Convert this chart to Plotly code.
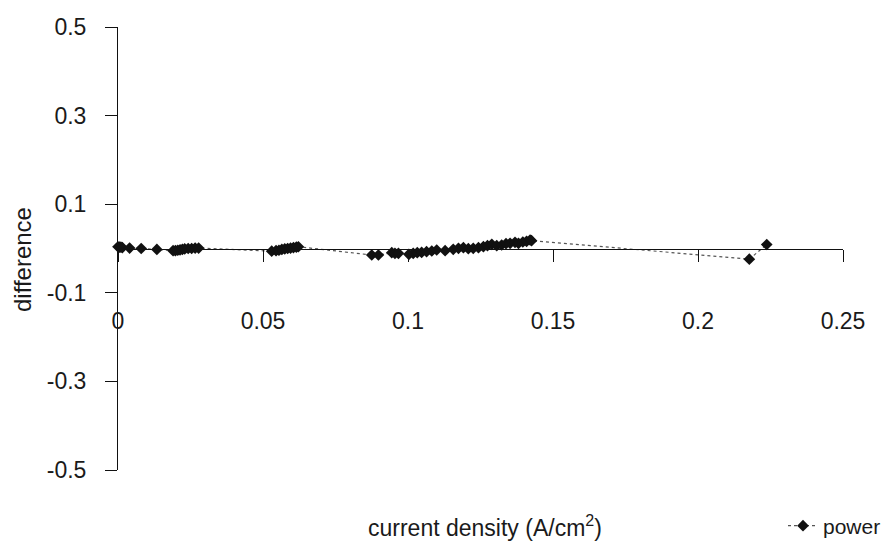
import plotly.graph_objects as go

# ---- data ----
x_c1 = [0.0, 0.0005, 0.001, 0.0015, 0.004, 0.008, 0.0134, 0.019, 0.0198, 0.0206,
        0.0214, 0.0222, 0.023, 0.0242, 0.0254, 0.0266, 0.0278]
y_c1 = [0.004, 0.003, 0.003, 0.002, 0.001, 0.000, -0.002, -0.005, -0.005, -0.004,
        -0.003, -0.002, -0.001, 0.000, 0.000, 0.001, 0.001]

x_c2 = [0.0530, 0.0545, 0.0555, 0.0565, 0.0575, 0.0585, 0.0595, 0.0605, 0.0615, 0.0622]
y_c2 = [-0.006, -0.005, -0.004, -0.002, -0.001, 0.000, 0.001, 0.002, 0.003, 0.004]

x_c3 = [0.0875, 0.0898, 0.0944, 0.0955, 0.0967, 0.1003, 0.1018, 0.1032, 0.1047, 0.1064,
        0.1082, 0.1099, 0.1128, 0.1156, 0.1174, 0.1191, 0.1208, 0.1225, 0.1243, 0.1260,
        0.1274, 0.1289, 0.1306, 0.1323, 0.1338, 0.1352, 0.1369, 0.1381, 0.1396, 0.1409,
        0.1421, 0.1426]
y_c3 = [-0.0147, -0.0147, -0.0094, -0.0109, -0.0109, -0.0132, -0.0109, -0.0094, -0.0087, -0.0072,
        -0.0056, -0.0034, -0.0049, -0.0019, 0.0004, 0.0019, -0.0004, 0.0004, 0.0019, 0.0041,
        0.0064, 0.0094, 0.0064, 0.0079, 0.0109, 0.0117, 0.0139, 0.0117, 0.0147, 0.0162,
        0.0192, 0.0177]

x_c4 = [0.2177, 0.2237]
y_c4 = [-0.024, 0.009]

current_density = x_c1 + x_c2 + x_c3 + x_c4
difference = y_c1 + y_c2 + y_c3 + y_c4

x_ticks = [0, 0.05, 0.1, 0.15, 0.2, 0.25]
x_tick_labels = ["0", "0.05", "0.1", "0.15", "0.2", "0.25"]
y_ticks = [0.5, 0.3, 0.1, -0.1, -0.3, -0.5]
y_tick_labels = ["0.5", "0.3", "0.1", "-0.1", "-0.3", "-0.5"]

FONT = "Liberation Sans, Arial, sans-serif"
TXT = "#1a1a1a"
W, H = 886, 542

fig = go.Figure()
fig.add_trace(go.Scatter(
    x=current_density, y=difference, mode="lines+markers", name="power",
    line=dict(color="#555555", width=1.2, dash="dot"),
    marker=dict(symbol="diamond", size=9, color="#111111"),
    cliponaxis=False,
))

fig.update_layout(
    width=W, height=H,
    margin=dict(l=118, r=43, t=27, b=72, autoexpand=False),
    paper_bgcolor="white", plot_bgcolor="white",
    font=dict(family=FONT, size=22, color=TXT),
    showlegend=True,
    legend=dict(xref="container", yref="container",
                x=888 / W, xanchor="right", y=1 - 526 / H, yanchor="middle",
                font=dict(size=21, color=TXT), bgcolor="rgba(0,0,0,0)"),
    xaxis=dict(
        range=[0, 0.25], anchor="free", position=0.5, automargin=False,
        showline=True, linecolor="#111", linewidth=1,
        ticks="outside", ticklen=12, tickcolor="#111", tickwidth=1,
        tickvals=x_ticks, ticktext=x_tick_labels,
        ticklabelstandoff=40,
        showgrid=False, zeroline=False,
        tickfont=dict(size=23, color=TXT),
    ),
    yaxis=dict(
        range=[-0.5, 0.5], automargin=False,
        showline=True, linecolor="#111", linewidth=1,
        ticks="outside", ticklen=12, tickcolor="#111", tickwidth=1,
        tickvals=y_ticks, ticktext=y_tick_labels,
        ticklabelstandoff=14,
        showgrid=False, zeroline=False,
        tickfont=dict(size=23, color=TXT),
    ),
    annotations=[
        dict(text="difference", xref="paper", yref="paper",
             x=(22 - 118) / 725, y=(470 - 260) / 443, xanchor="center", yanchor="middle",
             textangle=-90, showarrow=False, font=dict(size=24, color=TXT)),
        dict(text="current density (A/cm<sup>2</sup>)", xref="paper", yref="paper",
             x=(485 - 118) / 725, y=(470 - 526) / 443, xanchor="center", yanchor="middle",
             showarrow=False, font=dict(size=23, color=TXT)),
    ],
)

fig.write_html("out.html", config={"displayModeBar": False},
               post_script="document.body.style.margin='0';document.body.style.overflow='hidden';")
